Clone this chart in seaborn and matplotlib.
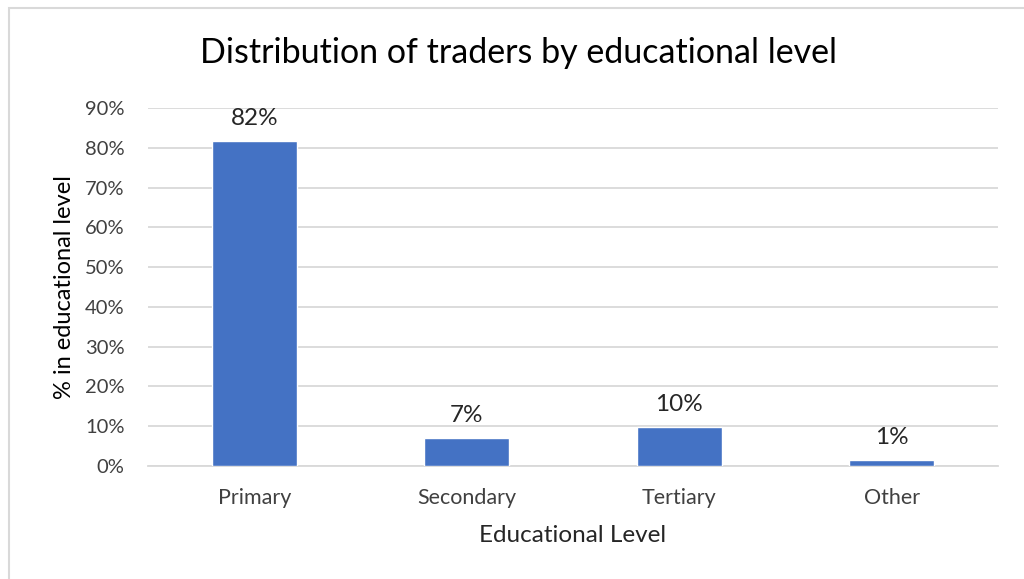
import matplotlib
matplotlib.use("Agg")
import matplotlib.pyplot as plt
import seaborn as sns
import pandas as pd
from matplotlib.ticker import FuncFormatter, MultipleLocator
from matplotlib.patches import Rectangle

# Share of traders (%) in each educational level
levels = ["Primary", "Secondary", "Tertiary", "Other"]
shares = [81.7, 7.0, 9.7, 1.4]

df = pd.DataFrame({"level": levels, "share": shares})

sns.set_theme(style="white")
plt.rcParams["font.family"] = ["Lato", "DejaVu Sans"]

fig = plt.figure(figsize=(10.24, 5.79), dpi=100)
ax = fig.add_axes([148 / 1024, 1 - 466 / 579, (998 - 148) / 1024, (466 - 108) / 579])

sns.barplot(data=df, x="level", y="share", color="#4472C4", width=0.4,
            saturation=1, ax=ax, zorder=3)

ax.set_ylim(0, 90)
ax.yaxis.set_major_locator(MultipleLocator(10))
ax.yaxis.set_major_formatter(FuncFormatter(lambda v, _: f"{v:.0f}%"))
ax.grid(axis="y", color="#D9D9D9", linewidth=1.3, zorder=0)
ax.set_axisbelow(True)
for side in ["top", "right", "left"]:
    ax.spines[side].set_visible(False)
ax.spines["bottom"].set_color("#D9D9D9")
ax.spines["bottom"].set_linewidth(1.3)
ax.tick_params(axis="both", length=0, colors="#404040")
ax.tick_params(axis="x", pad=16, labelsize=15.5)
ax.tick_params(axis="y", pad=17, labelsize=14.5)

for p, v in zip(ax.patches, shares):
    ax.annotate(f"{round(v):.0f}%", (p.get_x() + p.get_width() / 2, p.get_height()),
                xytext=(0, 9), textcoords="offset points",
                ha="center", va="bottom", fontsize=17.5, color="#262626")

ax.set_xlabel("Educational Level", fontsize=17.5, color="#262626", labelpad=12)
ax.set_ylabel("% in educational level", fontsize=17, color="#000000", labelpad=7)

fig.text(0.5 + 6 / 1024, 1 - 53 / 579, "Distribution of traders by educational level",
         ha="center", va="center", fontsize=24.5, color="#000000")

# light frame on the left and top of the chart area
fig.patches.append(Rectangle((9 / 1024, -0.05), 1.1, 1.05 - 8 / 579,
                             transform=fig.transFigure, fill=False,
                             edgecolor="#D9D9D9", linewidth=1.5))

fig.savefig("out.png", dpi=100, facecolor="white")
